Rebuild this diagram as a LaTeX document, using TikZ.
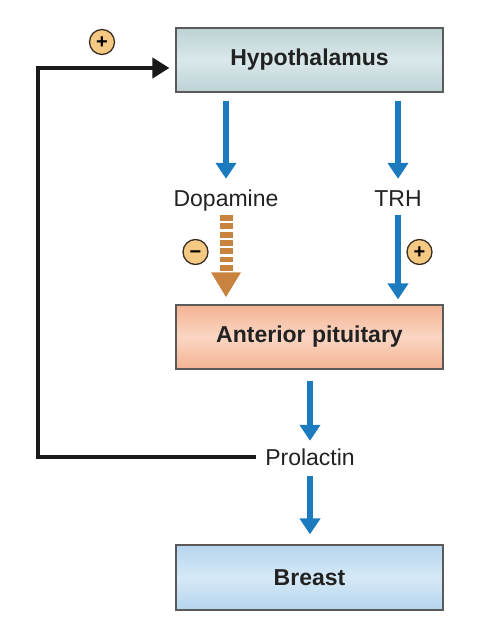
\documentclass[tikz,border=0pt]{standalone}
\usepackage{fontspec}
\setmainfont{Liberation Sans}
\usetikzlibrary{arrows.meta}
\definecolor{boxline}{HTML}{5A5A5A}
\definecolor{textdark}{HTML}{222222}
\definecolor{arrblue}{HTML}{1B7BBE}
\definecolor{dopbrown}{HTML}{C8843E}
\definecolor{signfill}{HTML}{F6C983}
\definecolor{signline}{HTML}{3A2E22}
\definecolor{hypA}{HTML}{BDD2D5}
\definecolor{hypB}{HTML}{DAE8EA}
\definecolor{pitA}{HTML}{F3B393}
\definecolor{pitB}{HTML}{FBD6C3}
\definecolor{brA}{HTML}{B5D5EE}
\definecolor{brB}{HTML}{D6E9F7}
\begin{document}
\begin{tikzpicture}[x=1pt,y=1pt,
  box/.style={draw=boxline, line width=1.2pt, minimum width=267pt, minimum height=64pt,
    inner sep=0pt, font=\fontsize{23}{27}\selectfont\bfseries, text=textdark},
  lbl/.style={inner sep=0pt, text height=17pt, text depth=5pt,
    font=\fontsize{23}{27}\selectfont, text=textdark},
  sign/.style={circle, draw=signline, line width=1.3pt, fill=signfill, minimum size=25pt,
    inner sep=0pt, font=\fontsize{20}{20}\selectfont\bfseries, text=black},
  bluearr/.style={draw=arrblue, line width=5.3pt, -{Triangle[width=20pt,length=16pt]}, arrblue},
  doparr/.style={draw=dopbrown, line width=13pt, dash pattern=on 5.8pt off 2.5pt,
    -{Triangle[width=28pt,length=25pt]}, dopbrown},
  fbarr/.style={draw=black!90, line width=4pt, -{Triangle[width=20pt,length=17pt]}}
]
\useasboundingbox (0,0) rectangle (481,632);

% boxes
\node[box, top color=hypA, bottom color=hypA, middle color=hypB] (hyp) at (309.5,572) {Hypothalamus};
\node[box, top color=pitA, bottom color=pitA, middle color=pitB] (pit) at (309.5,295) {Anterior pituitary};
\node[box, top color=brA, bottom color=brA, middle color=brB, minimum height=65pt] (br) at (309.5,54.5) {Breast};

% labels
\node[lbl, anchor=base] (dop) at (226,425) {Dopamine};
\node[lbl, anchor=base] (trh) at (398,425) {TRH};
\node[lbl, anchor=base] (pro) at (310,166) {Prolactin};

% arrows
\draw[bluearr, shorten <=8pt, shorten >=11pt] (dop |- hyp.south) -- (dop.north);
\draw[bluearr, shorten <=8pt, shorten >=11pt] (trh |- hyp.south) -- (trh.north);
\draw[doparr, shorten <=3pt, shorten >=7pt] (dop.south) -- (dop |- pit.north);
\draw[bluearr, shorten <=3pt, shorten >=5pt] (trh.south) -- (trh |- pit.north);
\draw[bluearr, shorten <=11pt, shorten >=8pt] (pro |- pit.south) -- (pro.north);
\draw[bluearr, shorten <=5pt, shorten >=10pt] (pro.south) -- (pro |- br.north);

% feedback loop
\coordinate (fbstart) at ([xshift=-9pt,yshift=3pt]pro.west);
\coordinate (fbend) at ([xshift=-6pt,yshift=-8pt]hyp.west);
\draw[fbarr] (fbstart) -- ++(-218,0) |- (fbend);

% signs
\node[sign] (s1) at (102,590) {\smash{\raisebox{-0.34em}{+}}};
\node[sign] (s2) at (195.5,380) {\smash{\raisebox{-0.32em}{−}}};
\node[sign] (s3) at (419.5,380) {\smash{\raisebox{-0.34em}{+}}};
\end{tikzpicture}
\end{document}
